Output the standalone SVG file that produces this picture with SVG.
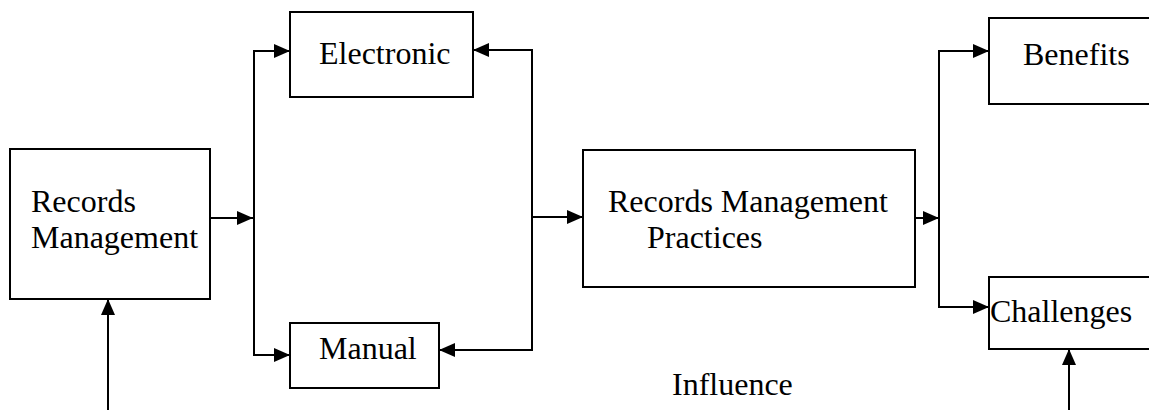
<svg xmlns="http://www.w3.org/2000/svg" width="1149" height="410" viewBox="0 0 1149 410">
  <style>
    .box { fill: #ffffff; stroke: #000000; stroke-width: 2; }
    .lbl { font-family: "Liberation Serif", "Times New Roman", serif; font-size: 32px; fill: #000000; }
    .con { fill: none; stroke: #000000; stroke-width: 2; }
  </style>
  <defs>
    <marker id="arr" markerUnits="userSpaceOnUse" viewBox="0 0 17 14" markerWidth="17" markerHeight="14" refX="16" refY="7" orient="auto">
      <path d="M0,0 L16,7 L0,14 Z" fill="#000000"/>
    </marker>
  </defs>
  <rect width="1149" height="410" fill="#ffffff"/>

  <g id="node-records-management">
    <rect class="box" x="10" y="149" width="200" height="150"/>
    <text class="lbl" x="31" y="212">Records</text>
    <text class="lbl" x="31" y="248">Management</text>
  </g>
  <g id="node-electronic">
    <rect class="box" x="290" y="12" width="183" height="85"/>
    <text class="lbl" x="319" y="64">Electronic</text>
  </g>
  <g id="node-manual">
    <rect class="box" x="290" y="323" width="149" height="65"/>
    <text class="lbl" x="319" y="359">Manual</text>
  </g>
  <g id="node-practices">
    <rect class="box" x="583" y="150" width="332" height="137"/>
    <text class="lbl" x="608" y="212">Records Management</text>
    <text class="lbl" x="647" y="248">Practices</text>
  </g>
  <g id="node-benefits">
    <rect class="box" x="989" y="18" width="180" height="86"/>
    <text class="lbl" x="1023" y="65">Benefits</text>
  </g>
  <g id="node-challenges">
    <rect class="box" x="989" y="277" width="180" height="72"/>
    <text class="lbl" x="990" y="322">Challenges</text>
  </g>
  <g id="label-influence">
    <text class="lbl" x="672" y="395">Influence</text>
  </g>

  <g id="connectors">
    <path class="con" d="M210,218 H253" marker-end="url(#arr)"/>
    <path class="con" d="M254,218 V51 H290" marker-end="url(#arr)"/>
    <path class="con" d="M254,218 V355 H290" marker-end="url(#arr)"/>
    <path class="con" d="M532,217 V50 H473" marker-end="url(#arr)"/>
    <path class="con" d="M532,217 V350 H439" marker-end="url(#arr)"/>
    <path class="con" d="M532,217 H583" marker-end="url(#arr)"/>
    <path class="con" d="M915,218 H939" marker-end="url(#arr)"/>
    <path class="con" d="M939,218 V51 H989" marker-end="url(#arr)"/>
    <path class="con" d="M939,218 V307 H989" marker-end="url(#arr)"/>
    <path class="con" d="M108,410 V299" marker-end="url(#arr)"/>
    <path class="con" d="M1069,410 V349" marker-end="url(#arr)"/>
  </g>
</svg>
